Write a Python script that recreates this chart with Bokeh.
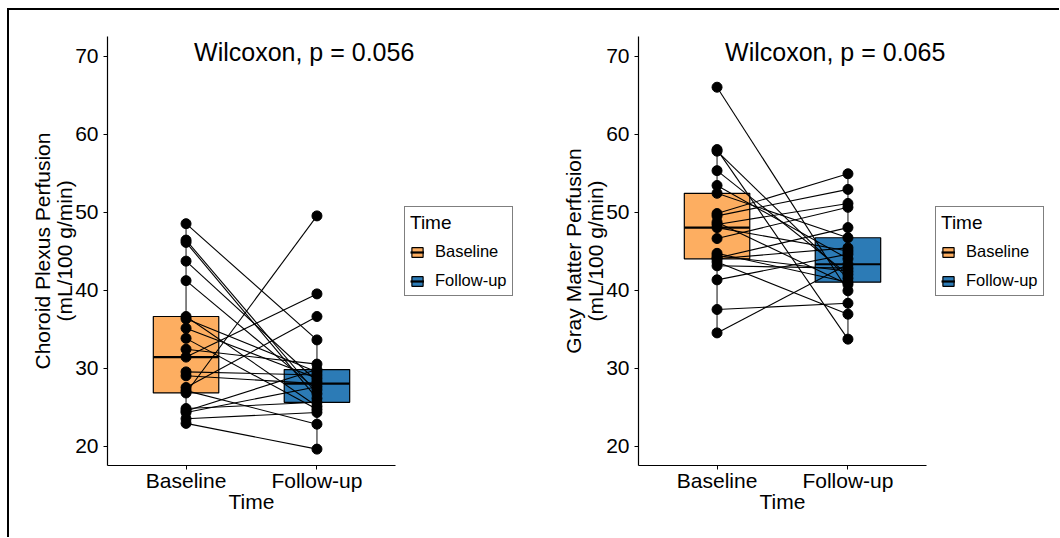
import numpy as np
from bokeh.plotting import figure
from bokeh.models import (Range1d, FixedTicker, Legend, LegendItem, Label,
                          Title, ColumnDataSource)
from bokeh.layouts import row
from bokeh.embed import file_html
from bokeh.resources import INLINE

# ---- data -------------------------------------------------------------
times = ["Baseline", "Follow-up"]
time_colors = ["#FDAE61", "#2C7BB6"]
y_ticks = [20, 30, 40, 50, 60, 70]
x_title = "Time"
unit_label = "(mL/100 g/min)"

# choroid plexus perfusion, paired by subject (mL/100 g/min)
cp_baseline = [48.5, 46.4, 46.1, 43.7, 41.2, 36.6, 36.3, 35.1, 33.8, 32.4, 31.4,
               29.5, 29.0, 27.5, 27.1, 26.8, 24.8, 24.5, 24.3, 23.5, 22.9]
cp_followup = [33.6, 26.7, 26.1, 28.3, 27.2, 25.1, 29.5, 28.7, 24.7, 30.5, 39.5,
               29.1, 28.0, 36.6, 22.8, 49.5, 25.6, 29.8, 27.6, 24.3, 19.6]
cp_test = "Wilcoxon, p = 0.056"

# gray matter perfusion, paired by subject (mL/100 g/min)
gm_baseline = [66.0, 58.0, 57.8, 55.3, 53.4, 52.4, 49.8, 49.5, 48.7, 48.4, 48.0,
               46.6, 44.7, 44.4, 44.1, 44.0, 43.6, 43.1, 41.3, 37.5, 34.5]
gm_followup = [39.9, 33.7, 41.5, 42.0, 44.0, 46.7, 54.9, 52.9, 40.7, 51.1, 45.0,
               50.6, 41.0, 42.4, 48.0, 45.4, 36.9, 42.8, 44.6, 38.3, 43.3]
gm_test = "Wilcoxon, p = 0.065"

FONT = "Liberation Sans"
X_LO, X_HI = 0.4, 2.6          # extent of the categorical axis
AXIS_PX = 288                  # pixel length of the x axis line
TITLE_PX = 21                  # axis title font size


def box_stats(vals):
    v = np.asarray(vals, dtype=float)
    q1, med, q3 = np.percentile(v, [25, 50, 75])
    iqr = q3 - q1
    lo = v[v >= q1 - 1.5 * iqr].min()
    hi = v[v <= q3 + 1.5 * iqr].max()
    return q1, med, q3, lo, hi


def make_panel(measure, test_text, base, follow, total_w, left_w):
    right_w = 5
    frame_w = total_w - left_w - right_w
    # the frame runs on past the axis so the legend and label sit inside it
    x_end = X_LO + frame_w * (X_HI - X_LO) / AXIS_PX
    p = figure(frame_width=frame_w, frame_height=429,
               x_range=Range1d(X_LO, x_end), y_range=Range1d(17.5, 72.5),
               output_backend="svg", toolbar_location=None,
               min_border_left=left_w, min_border_right=right_w,
               min_border_top=26, min_border_bottom=72)
    p.outline_line_color = None
    p.xgrid.visible = False
    p.ygrid.visible = False
    p.background_fill_color = "white"
    p.border_fill_color = "white"

    xpos = [i + 1 for i in range(len(times))]
    groups = [base, follow]
    stats = [box_stats(g) for g in groups]
    half = 0.25

    box_src = ColumnDataSource(dict(
        x=xpos,
        q1=[s[0] for s in stats], med=[s[1] for s in stats],
        q3=[s[2] for s in stats], lo=[s[3] for s in stats],
        hi=[s[4] for s in stats],
        xl=[x - half for x in xpos], xr=[x + half for x in xpos],
        color=time_colors, label=times))

    # whiskers
    p.segment(x0="x", x1="x", y0="q3", y1="hi", source=box_src,
              line_color="#333333", line_width=1.2)
    p.segment(x0="x", x1="x", y0="lo", y1="q1", source=box_src,
              line_color="#333333", line_width=1.2)
    # boxes and medians
    boxes = p.vbar(x="x", width=2 * half, bottom="q1", top="q3", source=box_src,
                   fill_color="color", line_color="black", line_width=1.2)
    medians = p.segment(x0="xl", x1="xr", y0="med", y1="med", source=box_src,
                        line_color="black", line_width=2.2)

    # paired subject lines
    n = len(base)
    p.segment(x0=[xpos[0]] * n, x1=[xpos[1]] * n, y0=base, y1=follow,
              line_color="black", line_width=1.1)
    # subject points
    p.scatter(x=[xpos[0]] * n, y=base, size=10, color="black")
    p.scatter(x=[xpos[1]] * n, y=follow, size=10, color="black")

    # test annotation
    p.add_layout(Label(x=xpos[0], y=70.3, x_offset=8, y_offset=2,
                       text=test_text, text_font=FONT, text_font_size="25px",
                       text_align="left", text_baseline="middle",
                       text_color="black"))

    # axes
    p.xaxis.ticker = FixedTicker(ticks=xpos)
    p.xaxis.bounds = (X_LO, X_HI)
    p.xaxis.major_label_overrides = {x: t for x, t in zip(xpos, times)}
    p.yaxis.ticker = FixedTicker(ticks=y_ticks)
    p.yaxis.axis_label = unit_label
    for ax in (p.xaxis, p.yaxis):
        ax.axis_line_color = "black"
        ax.axis_line_width = 1.2
        ax.major_tick_line_color = "black"
        ax.major_tick_out = 4
        ax.major_tick_in = 0
        ax.minor_tick_line_color = None
        ax.major_label_text_font = FONT
        ax.major_label_text_font_size = "21px"
        ax.major_label_text_color = "black"
        ax.axis_label_text_font = FONT
        ax.axis_label_text_font_size = f"{TITLE_PX}px"
        ax.axis_label_text_font_style = "normal"
        ax.axis_label_text_color = "black"
    p.yaxis.major_label_standoff = 5
    p.yaxis.axis_label_standoff = -4
    p.xaxis.major_label_standoff = -1

    # outer line of the y title
    p.add_layout(Title(text=measure, align="center", standoff=-6,
                       text_font=FONT, text_font_size=f"{TITLE_PX}px",
                       text_font_style="normal", text_color="black"), "left")
    # x title centred under the axis line (width of "Time" is ~2.22 em)
    x_title_w = 2.22 * TITLE_PX
    p.add_layout(Title(text=x_title, align="left",
                       offset=round(AXIS_PX / 2 - x_title_w / 2), standoff=-14,
                       text_font=FONT, text_font_size=f"{TITLE_PX}px",
                       text_font_style="normal", text_color="black"), "below")

    # legend, placed beside the axis inside the widened frame
    items = [LegendItem(label=t, renderers=[boxes, medians], index=i)
             for i, t in enumerate(times)]
    legend = Legend(items=items, title="Time", location=(297, 169),
                    orientation="vertical")
    legend.title_text_font = FONT
    legend.title_text_font_size = "19px"
    legend.title_text_font_style = "normal"
    legend.title_text_color = "black"
    legend.title_standoff = 8
    legend.label_text_font = FONT
    legend.label_text_font_size = "16.5px"
    legend.label_text_color = "black"
    legend.glyph_width = 14
    legend.glyph_height = 12
    legend.label_standoff = 11
    legend.spacing = 10
    legend.padding = 5
    legend.margin = 0
    legend.border_line_color = "black"
    legend.border_line_width = 1
    legend.background_fill_color = "white"
    p.add_layout(legend, "center")
    return p


p1 = make_panel("Choroid Plexus Perfusion", cp_test,
                cp_baseline, cp_followup, total_w=521, left_w=98)
p2 = make_panel("Gray Matter Perfusion", gm_test,
                gm_baseline, gm_followup, total_w=529, left_w=108)

# sheet border along the top and left
layout = row(p1, p2, styles={"border-top": "2.5px solid black",
                             "border-left": "2.5px solid black",
                             "margin-top": "8px", "margin-left": "7px"})
open("out.html", "w").write(file_html(layout, INLINE))
